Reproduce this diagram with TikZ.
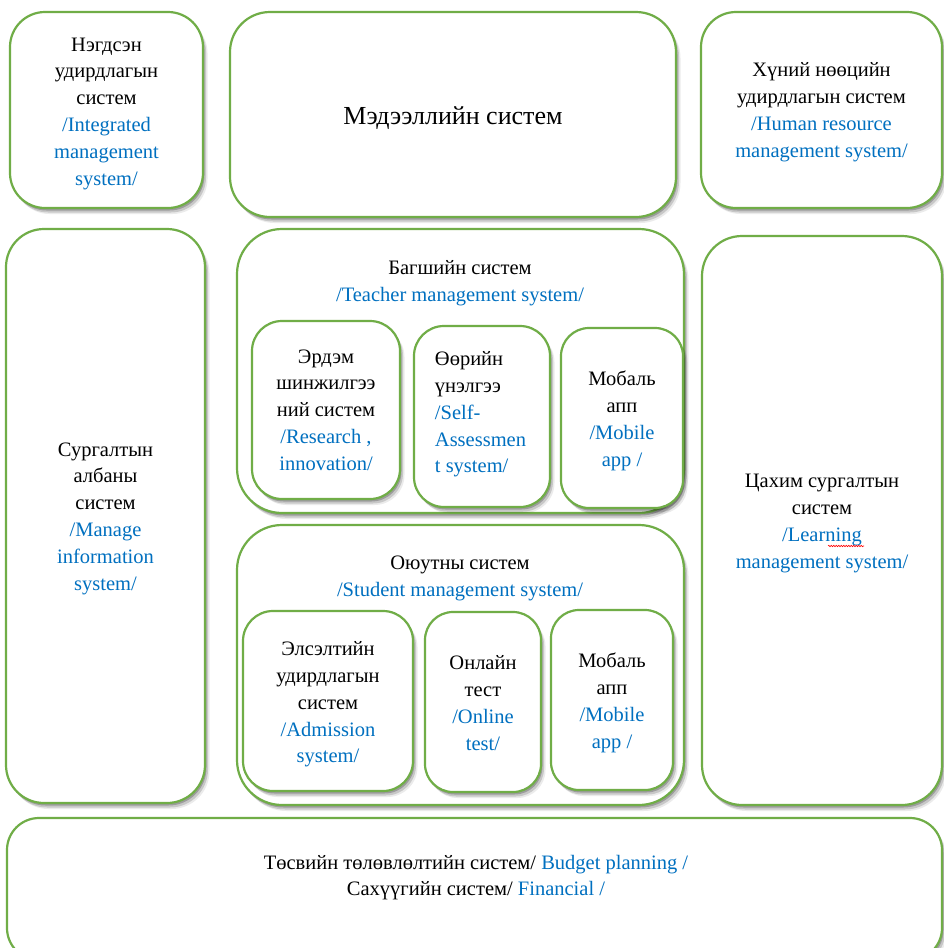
\documentclass[tikz,border=0pt]{standalone}
\usepackage{fontspec}
\setmainfont{Liberation Serif}
\usetikzlibrary{shadows,decorations.pathmorphing}
\definecolor{bgreen}{RGB}{112,173,71}
\definecolor{tblue}{RGB}{0,112,192}
\newcommand{\bl}[1]{\textcolor{tblue}{#1}}
\begin{document}
\begin{tikzpicture}[x=1pt,y=-1pt,
  shd/.style={
    drop shadow={shadow xshift=1.5pt,shadow yshift=-2.5pt,opacity=0.22,fill=black},
    drop shadow={shadow xshift=3pt,shadow yshift=-4.5pt,opacity=0.15,fill=black},
    drop shadow={shadow xshift=4.5pt,shadow yshift=-6pt,opacity=0.08,fill=black}},
  box/.style={shd, draw=bgreen, line width=2.2pt, fill=white, rounded corners=#1, inner sep=0pt},
  box/.default=30pt,
  txt/.style={align=center, inner sep=0pt, font=\fontsize{20.5}{26.8}\selectfont}]
\clip (0,0) rectangle (944,948);
\fill[white] (0,0) rectangle (944,948);

% top row
\node[box=35pt, minimum width=193pt, minimum height=196pt] (integ) at (106.5,110) {};
\node[txt] (integT) at ([yshift=-3.5pt]integ.center)
  {Нэгдсэн\\удирдлагын\\систем\\\bl{/Integrated}\\\bl{management}\\\bl{system/}};
\node[box=40pt, minimum width=446pt, minimum height=205pt] (info) at (453,114.5) {};
\node[txt, font=\fontsize{26}{31}\selectfont] (infoT) at ([yshift=-4pt]info.center) {Мэдээллийн систем};
\node[box=35pt, minimum width=241pt, minimum height=196pt] (hr) at (821.5,110) {};
\node[txt] (hrT) at ([yshift=-2pt]hr.center)
  {Хүний нөөцийн\\удирдлагын систем\\\bl{/Human resource}\\\bl{management system/}};

% side columns
\node[box=38pt, minimum width=199pt, minimum height=574pt] (mis) at (105.5,516) {};
\node[txt] (misT) at ([yshift=-2.5pt]mis.center)
  {Сургалтын\\албаны\\систем\\\bl{/Manage}\\\bl{information}\\\bl{system/}};
\node[box=40pt, minimum width=240pt, minimum height=569pt] (lms) at (822,520.5) {};
\node[txt] (lmsT) at ([yshift=-3pt]lms.center)
  {Цахим сургалтын\\систем\\\bl{/Learning}\\\bl{management system/}};

% teacher system
\node[box=45pt, minimum width=447pt, minimum height=284pt] (teach) at (460.5,371) {};
\node[txt] (teachT) at (460,283) {Багшийн систем\\\bl{/Teacher management system/}};
\node[box=30pt, minimum width=148pt, minimum height=178pt] (res) at (326,410) {};
\node[txt] (resT) at (res.center)
  {Эрдэм\\шинжилгээ\\ний систем\\\bl{/Research ,}\\\bl{innovation/}};
\node[box=30pt, minimum width=136pt, minimum height=181pt] (self) at (482,416.5) {};
\node[txt, align=left] (selfT) at ([yshift=2pt,xshift=-1.5pt]self.center)
  {Өөрийн\\үнэлгээ\\\bl{/Self-}\\\bl{Assessmen}\\\bl{t system/}};
\node[box=28pt, minimum width=122pt, minimum height=180pt] (mob1) at (622,418) {};
\node[txt] (mob1T) at ([yshift=-3pt]mob1.center)
  {Мобаль\\апп\\\bl{/Mobile}\\\bl{app /}};

% student system
\node[box=45pt, minimum width=447pt, minimum height=280pt] (stud) at (460.5,665) {};
\node[txt] (studT) at (460,578.5) {Оюутны систем\\\bl{/Student management system/}};
\node[box=30pt, minimum width=170pt, minimum height=180pt] (adm) at (328,701) {};
\node[txt] (admT) at ([yshift=-3.5pt]adm.center)
  {Элсэлтийн\\удирдлагын\\систем\\\bl{/Admission}\\\bl{system/}};
\node[box=28pt, minimum width=116pt, minimum height=180pt] (onl) at (483,702) {};
\node[txt] (onlT) at ([yshift=-1pt]onl.center)
  {Онлайн\\тест\\\bl{/Online}\\\bl{test/}};
\node[box=28pt, minimum width=122pt, minimum height=180pt] (mob2) at (612,700) {};
\node[txt] (mob2T) at ([yshift=-3pt]mob2.center)
  {Мобаль\\апп\\\bl{/Mobile}\\\bl{app /}};

% budget / financial
\node[box=32pt, minimum width=935pt, minimum height=142pt] (bud) at (474.5,889) {};
\node[txt] (budT) at (476,877.5) {Төсвийн төлөвлөлтийн систем/ \bl{Budget planning /}\\Сахүүгийн систем/ \bl{Financial /}};

% spell-check mark under "ning"
\coordinate (w1) at (828,546);
\coordinate (w2) at (864,546);
\draw[red, line width=0.6pt, decorate, decoration={snake, amplitude=0.7pt, segment length=2.5pt}] (w1) -- (w2);
\end{tikzpicture}
\end{document}
